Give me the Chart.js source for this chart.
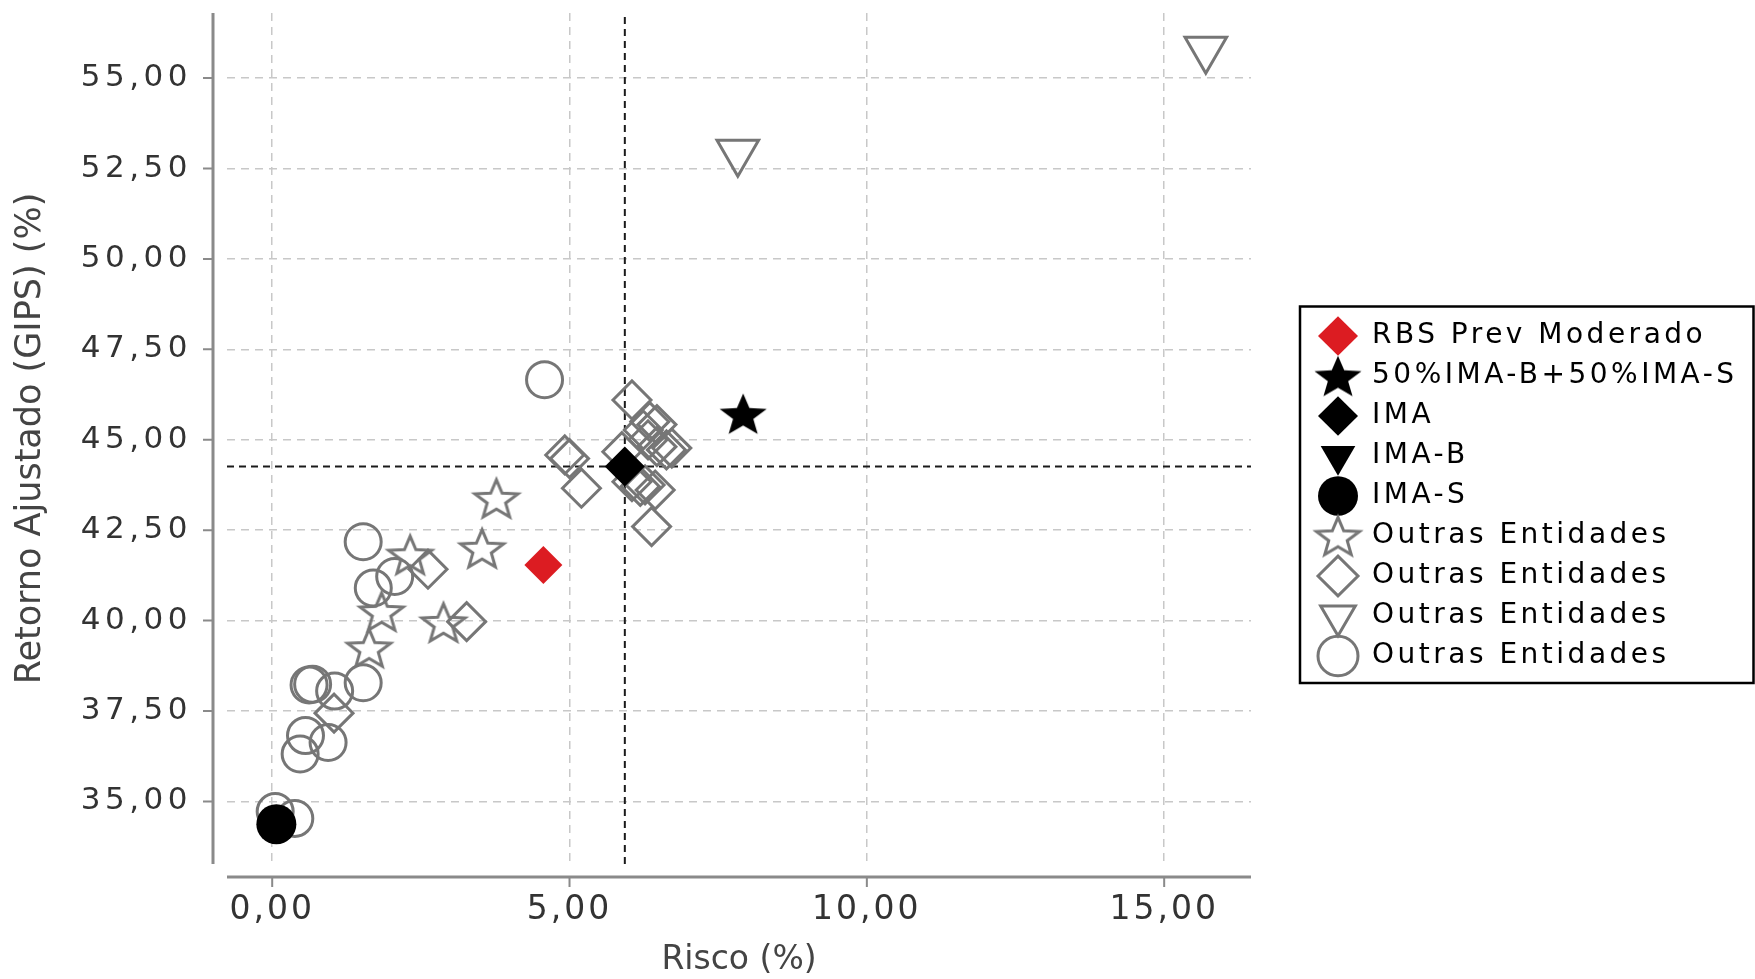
<!DOCTYPE html>
<html>
<head>
<meta charset="utf-8">
<script src="https://cdn.jsdelivr.net/npm/chart.js@4.4.1/dist/chart.umd.min.js"></script>
<style>
  html, body { margin: 0; padding: 0; background: #fff; }
  #wrap { width: 1755px; height: 979px; }
</style>
</head>
<body>
<div id="wrap"><canvas id="riscoRetorno"></canvas></div>
<script>
// valores: [risco %, retorno ajustado %]
const rbsPrev = [[4.56, 41.54]];
const imaBS = [[7.92, 45.72]];
const ima = [[5.93, 44.26]];
const imaB = [];
const imaS = [[0.07, 34.37]];
const outrasEstrela = [[3.77, 43.38], [3.53, 42.00], [2.32, 41.82], [1.84, 40.25], [2.88, 39.95], [1.63, 39.25]];
const outrasLosango = [[2.62, 41.42], [3.27, 39.97], [1.04, 37.44], [4.92, 44.58], [5.00, 44.48], [5.20, 43.66],
  [6.05, 46.10], [6.35, 45.50], [6.24, 45.27], [6.47, 45.42], [6.32, 45.00], [6.47, 44.81], [6.63, 44.72],
  [6.72, 44.77], [5.88, 44.67], [6.05, 43.84], [6.19, 43.71], [6.27, 43.75], [6.44, 43.61], [6.38, 42.60]];
const outrasTriangulo = [[7.83, 52.95], [15.70, 55.80]];
const outrasCirculo = [[4.58, 46.66], [1.53, 42.18], [2.06, 41.22], [1.70, 40.90], [1.53, 38.28], [0.62, 38.22],
  [0.68, 38.24], [1.05, 38.05], [0.56, 36.82], [0.94, 36.63], [0.47, 36.31], [0.05, 34.72], [0.38, 34.53]];

const xTicks = [0, 5, 10, 15];
const yTicks = [35, 37.5, 40, 42.5, 45, 47.5, 50, 52.5, 55];
const xRange = [-0.76, 16.46];
const yRange = [33.27, 56.8];

const GREY = '#767676';
const FONT = 'DejaVu Sans';

const pts = arr => arr.map(([x, y]) => ({x, y}));
const fmt = v => v.toFixed(2).replace('.', ',');

// estrela de 5 pontas (o Chart.js só tem o asterisco)
function starMarker(R, fill, stroke, lw, sx) {
  const c = document.createElement('canvas');
  const w = Math.ceil(2 * R * sx + lw * 4), h = Math.ceil(2 * R + lw * 4);
  c.width = w; c.height = h;
  const g = c.getContext('2d');
  g.translate(w / 2, h / 2 + R * 0.095);
  g.beginPath();
  for (let i = 0; i < 10; i++) {
    const r = i % 2 ? R * 0.43 : R;
    const a = -Math.PI / 2 + i * Math.PI / 5;
    const px = Math.cos(a) * r * sx, py = Math.sin(a) * r;
    if (i) g.lineTo(px, py); else g.moveTo(px, py);
  }
  g.closePath();
  if (fill) { g.fillStyle = fill; g.fill(); }
  if (stroke) { g.lineJoin = 'miter'; g.miterLimit = 4; g.lineWidth = lw; g.strokeStyle = stroke; g.stroke(); }
  return c;
}
const starBlack = starMarker(22.5, '#000', null, 0, 1.1);
const starGrey = starMarker(20.5, null, GREY, 3, 1.1);

// espaçamento de letras nos textos dos eixos e da legenda
const spacing = {
  id: 'spacing',
  beforeUpdate(chart) {
    const wrap = (obj, name, px) => {
      if (!obj || obj['_sp_' + name]) return;
      const orig = obj[name];
      obj[name] = function (...args) {
        const prev = this.ctx.letterSpacing;
        this.ctx.letterSpacing = px + 'px';
        const r = orig.apply(this, args);
        this.ctx.letterSpacing = prev;
        return r;
      };
      obj['_sp_' + name] = true;
    };
    wrap(chart.scales.y, 'drawLabels', 4.5);
    wrap(chart.scales.x, 'drawLabels', 3);

    const lg = chart.legend;
    if (lg && !lg._patched) {
      const fit = lg.fit, draw = lg.draw;
      lg.fit = function () {
        this.ctx.letterSpacing = '3.5px';
        fit.call(this);
        this.ctx.letterSpacing = '0px';
        this.width = 504;
      };
      lg.draw = function () {
        const c = this.ctx;
        const pad = this.options.labels.padding;
        const markerLeft = chart.chartArea.right + 67;
        const shift = markerLeft - (this.left + pad);
        c.save();
        c.letterSpacing = '3.5px';
        c.translate(shift, 0);
        draw.call(this);
        c.restore();
        // moldura da legenda
        const colH = this.columnSizes[0].height;
        const cy = (this.top + pad + this.bottom - colH) / 2;
        const step = 28 + pad;
        const first = cy + 14, last = cy + 14 + (this.legendItems.length - 1) * step;
        c.save();
        c.strokeStyle = '#000';
        c.lineWidth = 2.5;
        c.strokeRect(markerLeft - 18, first - 29.5, this.right - 1.5 - (markerLeft - 18), last - first + 56.5);
        c.restore();
      };
      lg._patched = true;
    }
  }
};

// eixos deslocados da área do gráfico, como no original
const axisLines = {
  id: 'axisLines',
  afterDraw(chart) {
    const {ctx, chartArea: a, scales: {x, y}} = chart;
    const ax = a.left - 14, ay = a.bottom + 13;
    ctx.save();
    ctx.strokeStyle = '#8a8a8a';
    ctx.lineWidth = 3;
    ctx.beginPath();
    ctx.moveTo(ax, a.top); ctx.lineTo(ax, a.bottom);
    ctx.moveTo(a.left, ay); ctx.lineTo(a.right, ay);
    ctx.stroke();
    ctx.lineWidth = 2;
    ctx.beginPath();
    y.ticks.forEach(t => { const p = y.getPixelForValue(t.value); ctx.moveTo(ax - 10, p); ctx.lineTo(ax, p); });
    x.ticks.forEach(t => { const p = x.getPixelForValue(t.value); ctx.moveTo(p, ay); ctx.lineTo(p, ay + 10); });
    ctx.stroke();
    ctx.restore();
  }
};

const refLine = {
  label: '', showLine: true, pointRadius: 0, borderColor: '#1a1a1a',
  borderWidth: 2, borderDash: [7, 5], fill: false
};

const datasets = [
  {label: 'RBS Prev Moderado', data: pts(rbsPrev), pointStyle: 'rectRot', pointRadius: 19,
    backgroundColor: '#dc1c22', borderColor: '#dc1c22', borderWidth: 0},
  {label: '50%IMA-B+50%IMA-S', data: pts(imaBS), pointStyle: starBlack, pointRadius: 20,
    backgroundColor: '#000', borderColor: '#000', borderWidth: 0},
  {label: 'IMA', data: pts(ima), pointStyle: 'rectRot', pointRadius: 20,
    backgroundColor: '#000', borderColor: '#000', borderWidth: 0},
  {label: 'IMA-B', data: pts(imaB), pointStyle: 'triangle', pointRotation: 180, pointRadius: 24,
    backgroundColor: '#000', borderColor: '#000', borderWidth: 0},
  {label: 'IMA-S', data: pts(imaS), pointStyle: 'circle', pointRadius: 20,
    backgroundColor: '#000', borderColor: '#000', borderWidth: 0},
  {label: 'Outras Entidades', data: pts(outrasEstrela), pointStyle: starGrey, pointRadius: 20,
    backgroundColor: 'rgba(0,0,0,0)', borderColor: GREY, borderWidth: 3},
  {label: 'Outras Entidades', data: pts(outrasLosango), pointStyle: 'rectRot', pointRadius: 19,
    backgroundColor: 'rgba(0,0,0,0)', borderColor: GREY, borderWidth: 3},
  {label: 'Outras Entidades', data: pts(outrasTriangulo), pointStyle: 'triangle', pointRotation: 180, pointRadius: 24,
    backgroundColor: 'rgba(0,0,0,0)', borderColor: GREY, borderWidth: 3},
  {label: 'Outras Entidades', data: pts(outrasCirculo), pointStyle: 'circle', pointRadius: 18,
    backgroundColor: 'rgba(0,0,0,0)', borderColor: GREY, borderWidth: 3},
  Object.assign({}, refLine, {data: [{x: ima[0][0], y: yRange[0]}, {x: ima[0][0], y: yRange[1]}]}),
  Object.assign({}, refLine, {data: [{x: xRange[0], y: ima[0][1]}, {x: xRange[1], y: ima[0][1]}]})
];

const ctx = document.getElementById('riscoRetorno').getContext('2d');
new Chart(ctx, {
  type: 'scatter',
  data: {datasets: datasets},
  options: {
    responsive: true,
    maintainAspectRatio: false,
    animation: false,
    events: [],
    layout: {padding: {top: 13, left: 0, right: 0, bottom: 0}, autoPadding: false},
    plugins: {
      tooltip: {enabled: false},
      legend: {
        position: 'right',
        labels: {
          usePointStyle: true,
          pointStyleWidth: 40,
          padding: 12,
          color: '#000',
          font: {family: FONT, size: 28},
          filter: item => item.text !== ''
        }
      }
    },
    scales: {
      x: {
        type: 'linear',
        min: xRange[0],
        max: xRange[1],
        afterBuildTicks: s => { s.ticks = xTicks.map(v => ({value: v})); },
        afterFit: s => { s.height = 115; s.paddingLeft = 0; s.paddingRight = 0; },
        ticks: {callback: v => fmt(v), padding: 27, color: '#333',
          font: {family: FONT, size: 33, lineHeight: 1.2}},
        grid: {color: '#c8c8c8', lineWidth: 1.5, drawTicks: false},
        border: {display: false, dash: [8, 6]},
        title: {display: true, text: 'Risco (%)', color: '#444',
          font: {family: FONT, size: 33, lineHeight: 1.1}, padding: {top: 0, bottom: 0}}
      },
      y: {
        type: 'linear',
        min: yRange[0],
        max: yRange[1],
        afterBuildTicks: s => { s.ticks = yTicks.map(v => ({value: v})); },
        afterFit: s => { s.width = 227; s.paddingTop = 0; s.paddingBottom = 0; },
        ticks: {callback: v => fmt(v), padding: 35, color: '#333',
          font: {family: FONT, size: 31}},
        grid: {color: '#c8c8c8', lineWidth: 1.5, drawTicks: false},
        border: {display: false, dash: [8, 6]},
        title: {display: true, text: 'Retorno Ajustado (GIPS) (%)', color: '#444',
          font: {family: FONT, size: 35, lineHeight: 1.1}, padding: {top: 12, bottom: 0}}
      }
    }
  },
  plugins: [spacing, axisLines]
});
</script>
</body>
</html>
